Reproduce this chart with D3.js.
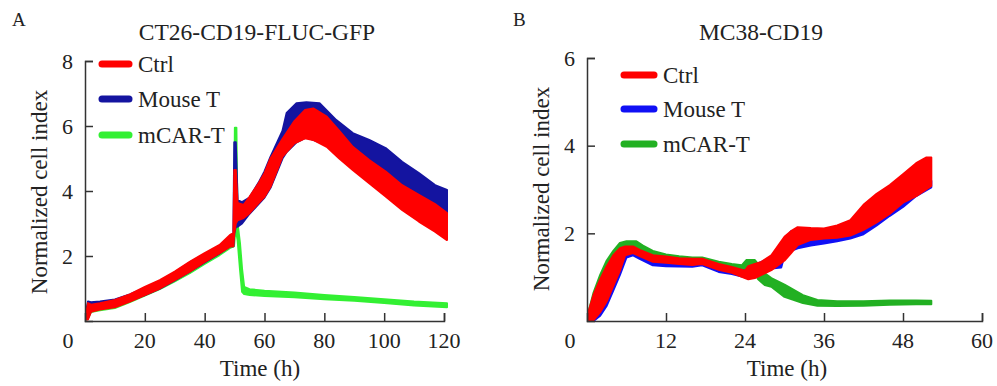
<!DOCTYPE html>
<html>
<head>
<meta charset="utf-8">
<script src="https://cdn.jsdelivr.net/npm/d3@7"></script>
<style>
  body { margin: 0; background: #fff; }
</style>
</head>
<body>
<svg id="chart" width="997" height="386"></svg>
<script>
// ---- Panel A: CT26-CD19-FLUC-GFP (time in h, normalized cell index band lo/hi)
const ctrlA_t  = [0.5, 1, 2, 5, 10, 15, 20, 25, 30, 35, 40, 45, 48.5, 49.6, 49.9, 50.4, 51, 53, 55, 58, 60, 62, 66, 70, 73.5, 76.3, 80.8, 85, 89.5, 95, 100.5, 106, 111.6, 117, 121];
const ctrlA_lo = [0.05, 0.05, 0.28, 0.35, 0.42, 0.6, 0.8, 1.0, 1.26, 1.52, 1.82, 2.09, 2.29, 2.3, 2.7, 3.0, 3.1, 3.17, 3.32, 3.63, 3.82, 4.13, 5.06, 5.47, 5.62, 5.57, 5.36, 5.0, 4.65, 4.24, 3.83, 3.42, 3.06, 2.75, 2.49];
const ctrlA_hi = [0.3, 0.55, 0.5, 0.55, 0.65, 0.82, 1.05, 1.26, 1.52, 1.82, 2.09, 2.34, 2.65, 2.7, 4.65, 4.65, 3.63, 3.57, 3.82, 4.23, 4.55, 5.0, 5.6, 6.15, 6.49, 6.54, 6.29, 5.85, 5.36, 4.95, 4.6, 4.18, 3.88, 3.6, 3.32];

const mouseA_t  = [0.5, 1, 2, 5, 10, 15, 20, 25, 30, 35, 40, 45, 48.5, 49.6, 49.9, 50.4, 51, 52.5, 55, 58, 60, 62, 66, 67.4, 70.7, 74, 78.4, 84, 89.5, 95, 100.5, 106, 111.6, 117, 121];
const mouseA_lo = [0.1, 0.1, 0.3, 0.38, 0.45, 0.62, 0.8, 1.0, 1.25, 1.52, 1.8, 2.08, 2.3, 2.3, 2.7, 2.9, 2.9, 3.0, 3.3, 3.6, 3.8, 4.1, 5.0, 5.2, 5.5, 5.65, 5.5, 5.5, 5.2, 4.8, 4.45, 4.05, 3.75, 3.5, 3.3];
const mouseA_hi = [0.35, 0.6, 0.58, 0.6, 0.66, 0.82, 1.02, 1.22, 1.5, 1.8, 2.05, 2.3, 2.6, 2.65, 5.5, 5.5, 3.72, 3.66, 3.8, 4.25, 4.6, 5.05, 5.85, 6.4, 6.7, 6.73, 6.7, 6.18, 5.78, 5.57, 5.32, 4.9, 4.55, 4.18, 4.03];

const carA_t  = [0.5, 1, 2, 5, 10, 15, 20, 25, 30, 35, 40, 45, 48.5, 49.8, 50.1, 50.6, 51, 51.8, 52.5, 53.2, 55, 60, 70, 80, 90, 100, 110, 121];
const carA_lo = [0.05, 0.1, 0.28, 0.33, 0.4, 0.58, 0.78, 0.98, 1.22, 1.47, 1.76, 2.03, 2.25, 2.3, 2.6, 2.7, 2.5, 1.6, 0.9, 0.83, 0.8, 0.77, 0.73, 0.67, 0.62, 0.55, 0.48, 0.42];
const carA_hi = [0.3, 0.45, 0.45, 0.5, 0.55, 0.75, 0.95, 1.15, 1.4, 1.65, 1.95, 2.2, 2.5, 2.6, 5.95, 5.95, 3.0, 2.4, 1.6, 1.05, 0.98, 0.93, 0.88, 0.8, 0.74, 0.67, 0.6, 0.55];

// ---- Panel B: MC38-CD19
const ctrlB_t  = [0.3, 1, 2, 3, 4, 5, 5.8, 7, 8, 10, 12, 14, 16, 17.5, 20, 22, 24, 24.5, 25.5, 26.5, 28, 30, 31, 32, 34, 36, 38, 40, 42, 44, 46, 48, 50, 51.5, 52.3];
const ctrlB_lo = [0.0, 0.02, 0.2, 0.45, 0.8, 1.15, 1.5, 1.55, 1.48, 1.35, 1.33, 1.3, 1.28, 1.3, 1.17, 1.1, 0.98, 0.95, 0.98, 1.05, 1.16, 1.38, 1.55, 1.73, 1.85, 1.88, 1.9, 1.95, 2.08, 2.25, 2.45, 2.7, 2.85, 3.0, 3.08];
const ctrlB_hi = [0.25, 0.6, 0.95, 1.25, 1.5, 1.66, 1.7, 1.7, 1.62, 1.5, 1.47, 1.43, 1.42, 1.42, 1.3, 1.23, 1.15, 1.25, 1.3, 1.35, 1.5, 1.92, 2.05, 2.14, 2.12, 2.11, 2.18, 2.3, 2.65, 2.9, 3.1, 3.35, 3.6, 3.73, 3.73];

const mouseB_t  = [0.3, 1, 2, 3, 4, 5, 6, 7, 8, 10, 12, 16, 17.5, 20, 22, 24, 25, 26.5, 28, 29.5, 30, 31, 32, 34, 36, 38, 40, 42, 44, 46, 48, 50, 52.3];
const mouseB_lo = [0.0, 0.0, 0.12, 0.35, 0.7, 1.05, 1.45, 1.5, 1.42, 1.27, 1.25, 1.24, 1.27, 1.12, 1.07, 1.0, 1.05, 1.15, 1.2, 1.22, 1.5, 1.6, 1.66, 1.72, 1.77, 1.82, 1.88, 1.98, 2.18, 2.4, 2.6, 2.85, 3.05];
const mouseB_hi = [0.2, 0.5, 0.85, 1.15, 1.4, 1.6, 1.65, 1.65, 1.58, 1.45, 1.42, 1.4, 1.4, 1.28, 1.2, 1.15, 1.25, 1.35, 1.45, 1.6, 1.85, 2.05, 2.0, 1.95, 2.0, 2.05, 2.1, 2.25, 2.45, 2.7, 2.9, 3.1, 3.2];

const carB_t  = [0.3, 1, 2, 3, 4, 5, 6, 7.5, 8.5, 10, 12, 14, 16, 17.5, 20, 22, 23.5, 24.2, 25.5, 26, 27, 28, 30, 32.8, 35, 38, 42, 46, 50, 52.3];
const carB_lo = [0.0, 0.1, 0.35, 0.65, 1.0, 1.35, 1.6, 1.62, 1.55, 1.42, 1.38, 1.35, 1.33, 1.32, 1.23, 1.18, 1.15, 1.15, 1.1, 0.95, 0.82, 0.78, 0.55, 0.41, 0.35, 0.34, 0.35, 0.37, 0.38, 0.38];
const carB_hi = [0.25, 0.65, 1.05, 1.38, 1.6, 1.78, 1.82, 1.82, 1.72, 1.6, 1.52, 1.48, 1.45, 1.45, 1.35, 1.3, 1.27, 1.39, 1.39, 1.3, 1.09, 0.98, 0.83, 0.59, 0.48, 0.45, 0.45, 0.47, 0.47, 0.46];

const legendNames = ['Ctrl', 'Mouse T', 'mCAR-T'];
const ticksA = [20, 40, 60, 80, 100, 120];
const yTicksA = [2, 4, 6, 8];
const ticksB = [12, 24, 36, 48, 60];
const yTicksB = [2, 4, 6];

const svg = d3.select('#chart')
  .attr('font-family', '"Liberation Serif", "DejaVu Serif", serif');

function zip(t, lo, hi) {
  return t.map((d, i) => ({ t: d, lo: lo[i], hi: hi[i] }));
}

function drawPanel(opt) {
  const x = d3.scaleLinear().domain(opt.xDomain).range(opt.xRange);
  const y = d3.scaleLinear().domain(opt.yDomain).range(opt.yRange);
  const g = svg.append('g');

  // bands: green first, red on top
  const area = d3.area()
    .x(d => x(d.t))
    .y0(d => y(d.lo))
    .y1(d => y(d.hi));

  opt.series.slice().reverse().forEach(s => {
    g.append('path')
      .datum(s.data)
      .attr('d', area)
      .attr('fill', s.color)
      .attr('stroke', s.color)
      .attr('stroke-width', 2)
      .attr('stroke-linejoin', 'round');
  });

  // axes (ticks pointing inward)
  const xAxis = g.append('g')
    .attr('transform', `translate(0,${opt.yRange[0]})`)
    .call(d3.axisTop(x).tickValues(opt.xTicks).tickSize(8).tickFormat(''));
  const yAxis = g.append('g')
    .attr('transform', `translate(${opt.xRange[0]},0)`)
    .call(d3.axisRight(y).tickValues(opt.yTicks).tickSize(8).tickFormat(''));
  [xAxis, yAxis].forEach(a => {
    a.select('.domain').attr('stroke', '#333').attr('stroke-width', 1.5);
    a.selectAll('.tick line').attr('stroke', '#333').attr('stroke-width', 1.5);
  });

  // tick labels
  g.selectAll('.xl').data(opt.xTicks).enter().append('text')
    .attr('x', d => x(d)).attr('y', 348)
    .attr('text-anchor', 'middle').attr('font-size', 22).attr('fill', '#222')
    .text(d => d);
  g.selectAll('.yl').data(opt.yTicks).enter().append('text')
    .attr('x', opt.xRange[0] - 12).attr('y', d => y(d))
    .attr('dy', '0.35em')
    .attr('text-anchor', 'end').attr('font-size', 22).attr('fill', '#222')
    .text(d => d);
  g.append('text')
    .attr('x', opt.xRange[0] - 17).attr('y', 348)
    .attr('text-anchor', 'middle').attr('font-size', 22).attr('fill', '#222')
    .text('0');

  // titles and labels
  g.append('text')
    .attr('x', opt.panelX).attr('y', 26)
    .attr('font-size', 19).attr('fill', '#222')
    .text(opt.letter);
  g.append('text')
    .attr('x', opt.titleX).attr('y', 40)
    .attr('text-anchor', 'middle').attr('font-size', 23.5).attr('fill', '#222')
    .text(opt.title);
  g.append('text')
    .attr('x', opt.xLabelX).attr('y', 376)
    .attr('text-anchor', 'middle').attr('font-size', 23).attr('fill', '#222')
    .text('Time (h)');
  g.append('text')
    .attr('transform', `translate(${opt.yLabelX},${opt.yLabelY}) rotate(-90)`)
    .attr('text-anchor', 'middle').attr('dy', '0.35em').attr('font-size', 23).attr('fill', '#222')
    .text('Normalized cell index');

  // legend
  const lg = g.append('g');
  opt.series.forEach((s, i) => {
    const ly = opt.legendY[i];
    lg.append('line')
      .attr('x1', opt.legendX[0]).attr('x2', opt.legendX[1])
      .attr('y1', ly).attr('y2', ly)
      .attr('stroke', s.color).attr('stroke-width', 7)
      .attr('stroke-linecap', 'round');
    lg.append('text')
      .attr('x', opt.legendX[1] + 9).attr('y', ly)
      .attr('dy', '0.35em').attr('font-size', 23).attr('fill', '#222')
      .text(legendNames[i]);
  });
}

drawPanel({
  letter: 'A', panelX: 12, title: 'CT26-CD19-FLUC-GFP', titleX: 257,
  xDomain: [0, 120], xRange: [85, 444],
  yDomain: [0, 8], yRange: [321, 61],
  xTicks: ticksA, yTicks: yTicksA,
  xLabelX: 260, yLabelX: 39, yLabelY: 192,
  legendX: [102, 129], legendY: [64, 99, 135],
  series: [
    { color: '#ff0000', data: zip(ctrlA_t, ctrlA_lo, ctrlA_hi) },
    { color: '#1414a0', data: zip(mouseA_t, mouseA_lo, mouseA_hi) },
    { color: '#33f033', data: zip(carA_t, carA_lo, carA_hi) }
  ]
});

drawPanel({
  letter: 'B', panelX: 513, title: 'MC38-CD19', titleX: 761,
  xDomain: [0, 60], xRange: [587, 982],
  yDomain: [0, 6], yRange: [321, 58],
  xTicks: ticksB, yTicks: yTicksB,
  xLabelX: 787, yLabelX: 541, yLabelY: 189,
  legendX: [624, 654], legendY: [75, 109, 144],
  series: [
    { color: '#ff0000', data: zip(ctrlB_t, ctrlB_lo, ctrlB_hi) },
    { color: '#1010f5', data: zip(mouseB_t, mouseB_lo, mouseB_hi) },
    { color: '#22b022', data: zip(carB_t, carB_lo, carB_hi) }
  ]
});
</script>
</body>
</html>
